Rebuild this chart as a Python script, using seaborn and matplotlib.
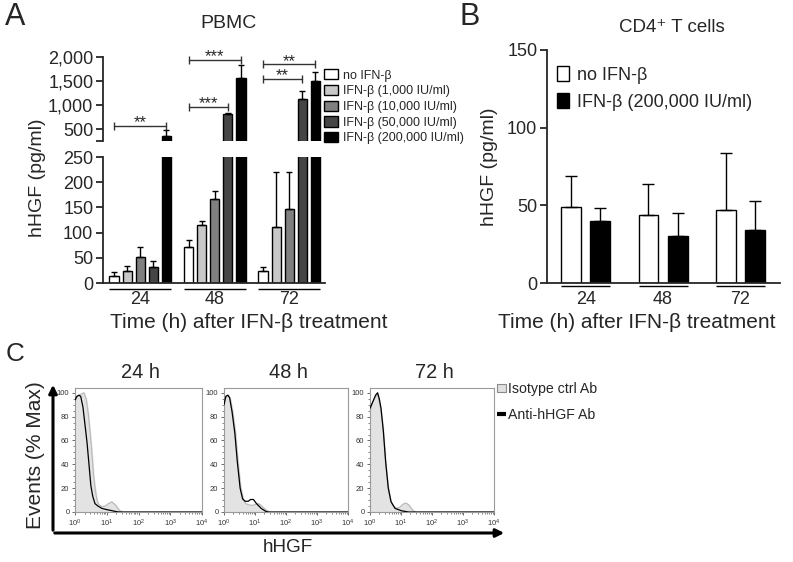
import numpy as np
import pandas as pd
import matplotlib
matplotlib.use('Agg')
import matplotlib.pyplot as plt
import seaborn as sns
from matplotlib.patches import Patch, FancyArrowPatch
from matplotlib.lines import Line2D
from matplotlib.container import BarContainer
from matplotlib.ticker import MultipleLocator, LogLocator, NullFormatter
from matplotlib.transforms import blended_transform_factory
from matplotlib import font_manager

# ---------------- data ----------------
times = ['24', '48', '72']

# Panel A (PBMC)
pbmc_treatments = ['no IFN-β', 'IFN-β (1,000 IU/ml)', 'IFN-β (10,000 IU/ml)',
                   'IFN-β (50,000 IU/ml)', 'IFN-β (200,000 IU/ml)']
pbmc_no_ifn = [13, 71, 23]
pbmc_1000 = [24, 116, 111]
pbmc_10000 = [51, 167, 147]
pbmc_50000 = [31, 815, 1122]
pbmc_200000 = [361, 1558, 1502]
pbmc_no_ifn_err = [8, 14, 9]
pbmc_1000_err = [9, 8, 110]
pbmc_10000_err = [20, 15, 74]
pbmc_50000_err = [13, 12, 160]
pbmc_200000_err = [110, 275, 195]

# significance brackets (group index, target treatment index, height, label)
bracket_group = [0, 1, 1, 2, 2]
bracket_target = [4, 3, 4, 3, 4]
bracket_y = [566, 956, 1938, 1537, 1849]
bracket_label = ['**', '***', '***', '**', '**']

# Panel B (CD4+ T cells)
cd4_groups = ['no IFN-β', 'IFN-β (200,000 IU/ml)']
cd4_no_ifn = [49, 44, 47]
cd4_ifn = [40, 30, 34]
cd4_no_ifn_err = [20, 20, 37]
cd4_ifn_err = [8, 15, 19]

# Panel C (flow histograms), x given as log10(hHGF), y as % of max
hist_titles = ['24 h', '48 h', '72 h']
iso_logx_24 = [0, 0.08, 0.2, 0.28, 0.35, 0.42, 0.48, 0.53, 0.58, 0.63, 0.69, 0.75, 0.85, 0.95, 1.05, 1.16, 1.27, 1.38, 1.48]
iso_y_24 = [93, 97, 99, 100, 95, 82, 65, 50, 32, 20, 10, 6, 4.5, 5, 7, 8.5, 6, 2, 0]
anti_logx_24 = [0, 0.06, 0.12, 0.18, 0.25, 0.32, 0.38, 0.44, 0.5, 0.56, 0.63, 0.72, 0.85, 1.0, 1.15, 1.3, 1.4, 4]
anti_y_24 = [94, 97, 98, 97, 88, 72, 58, 40, 22, 13, 7, 5, 3, 2, 1.2, 0.3, 0, 0]

iso_logx_48 = [0, 0.08, 0.14, 0.2, 0.28, 0.37, 0.45, 0.54, 0.62, 0.7, 0.8, 0.92, 1.02, 1.12, 1.22, 1.34, 1.46]
iso_y_48 = [92, 97, 98, 95, 84, 66, 42, 20, 11, 7, 6, 5.5, 6.5, 7, 5, 2, 0]
anti_logx_48 = [0, 0.06, 0.12, 0.18, 0.26, 0.35, 0.43, 0.52, 0.6, 0.68, 0.78, 0.86, 0.95, 1.05, 1.2, 1.35, 1.43, 4]
anti_y_48 = [90, 97, 98, 96, 84, 66, 42, 20, 11, 9, 9, 10.5, 10.5, 7, 3, 0.5, 0, 0]

iso_logx_72 = [0, 0.1, 0.24, 0.35, 0.43, 0.5, 0.58, 0.66, 0.75, 0.86, 0.96, 1.06, 1.15, 1.25, 1.36, 1.45]
iso_y_72 = [85, 93, 99, 86, 68, 44, 22, 10, 5, 3, 4, 6.5, 7.6, 6, 2, 0]
anti_logx_72 = [0, 0.1, 0.18, 0.245, 0.3, 0.355, 0.43, 0.505, 0.59, 0.68, 0.81, 1.02, 1.24, 4]
anti_y_72 = [87, 93, 98, 100, 95, 87, 68, 42, 20, 8.5, 3, 1, 0, 0]

# ---------------- style ----------------
sns.set_style('ticks')
plt.rcParams['font.family'] = ['Liberation Sans', 'DejaVu Sans']
plt.rcParams['mathtext.fontset'] = 'custom'
plt.rcParams['mathtext.rm'] = 'Liberation Sans'


def has_font(name):
    try:
        font_manager.findfont(font_manager.FontProperties(family=name), fallback_to_default=False)
        return True
    except Exception:
        return False


if has_font('Liberation Sans Narrow'):
    NARROW = ['Liberation Sans Narrow', 'DejaVu Sans']
    NARROW_SCALE = 1.0
else:
    NARROW = ['Liberation Sans', 'DejaVu Sans']
    NARROW_SCALE = 0.85

W, H = 793, 562
fig = plt.figure(figsize=(W / 100, H / 100), dpi=100)


def rect(l, t, r, b):
    return [l / W, 1 - b / H, (r - l) / W, (b - t) / H]


def fx(x):
    return x / W


def fy(y):
    return 1 - y / H


SPINE_LW = 1.3

# ---------------- Panel A ----------------
series_vals = [pbmc_no_ifn, pbmc_1000, pbmc_10000, pbmc_50000, pbmc_200000]
series_err = [pbmc_no_ifn_err, pbmc_1000_err, pbmc_10000_err, pbmc_50000_err, pbmc_200000_err]
rows = []
for lab, vals in zip(pbmc_treatments, series_vals):
    for t, v in zip(times, vals):
        rows.append({'time': t, 'treatment': lab, 'value': v})
df_a = pd.DataFrame(rows)
pal_a = ['#ffffff', '#c8c8c8', '#808080', '#454545', '#000000']

ax_lo = fig.add_axes(rect(103, 157, 325, 283))
ax_hi = fig.add_axes(rect(103, 57, 325, 141))
bar_sets = {}
for ax in (ax_lo, ax_hi):
    sns.barplot(data=df_a, x='time', y='value', hue='treatment', order=times,
                hue_order=pbmc_treatments, palette=pal_a, saturation=1, edgecolor='black',
                linewidth=1, errorbar=None, width=0.878, gap=0.29, legend=False, ax=ax)
    conts = [c for c in ax.containers if isinstance(c, BarContainer)]
    bar_sets[ax] = conts
    for i, cont in enumerate(conts):
        patches = sorted(cont.patches, key=lambda p: p.get_x())
        keep = [j for j in range(len(patches))
                if (ax is ax_lo and series_vals[i][j] < 250) or
                   (ax is ax_hi and series_vals[i][j] > 250)]
        if not keep:
            continue
        xs = [patches[j].get_x() + patches[j].get_width() / 2 for j in keep]
        ys = [series_vals[i][j] for j in keep]
        es = [series_err[i][j] for j in keep]
        ax.errorbar(xs, ys, yerr=[np.zeros(len(xs)), es],
                    fmt='none', ecolor='black', elinewidth=1, capsize=2.5, capthick=1)
    ax.set_xlim(-0.5, 2.48)
    ax.set_xlabel('')
    ax.set_ylabel('')
    ax.set_facecolor('none')
    for s in ('top', 'right'):
        ax.spines[s].set_visible(False)
    for s in ('left', 'bottom'):
        ax.spines[s].set_linewidth(SPINE_LW)
    ax.tick_params(axis='y', length=5, width=SPINE_LW, labelsize=13, pad=2)

ax_lo.set_ylim(0, 250)
ax_lo.set_yticks([0, 50, 100, 150, 200, 250])
ax_lo.set_xticks([0, 1, 2])
ax_lo.set_xticklabels(times)
ax_lo.tick_params(axis='x', length=0, labelsize=13, pad=6)

ax_hi.set_ylim(250, 2000)
ax_hi.set_yticks([250, 500, 1000, 1500, 2000])
ax_hi.set_yticklabels(['', '500', '1,000', '1,500', '2,000'])
ax_hi.spines['bottom'].set_visible(False)
ax_hi.tick_params(axis='x', bottom=False, labelbottom=False)

# group underlines
conts = bar_sets[ax_lo]
trans = blended_transform_factory(ax_lo.transData, ax_lo.transAxes)
for j in range(len(times)):
    ps = [sorted(c.patches, key=lambda p: p.get_x())[j] for c in conts]
    left = min(p.get_x() for p in ps)
    right = max(p.get_x() + p.get_width() for p in ps)
    ax_lo.plot([left, right], [-6 / 126, -6 / 126], transform=trans, color='black',
               lw=1, clip_on=False, solid_capstyle='butt')

# significance brackets
hconts = bar_sets[ax_hi]
for g, tgt, yv, lab in zip(bracket_group, bracket_target, bracket_y, bracket_label):
    p0 = sorted(hconts[0].patches, key=lambda p: p.get_x())[g]
    p1 = sorted(hconts[tgt].patches, key=lambda p: p.get_x())[g]
    x0 = p0.get_x() + p0.get_width() / 2
    x1 = p1.get_x() + p1.get_width() / 2
    ax_hi.plot([x0, x1], [yv, yv], color='#333333', lw=1, marker='|', markersize=6,
               markeredgewidth=1, clip_on=False)
    ax_hi.annotate(lab, xy=((x0 + x1) / 2, yv), xytext=(0, -1), textcoords='offset points',
                   ha='center', va='baseline', fontsize=12, annotation_clip=False)

handles_a = [Patch(facecolor=c, edgecolor='black', linewidth=1) for c in pal_a]
fig.legend(handles_a, pbmc_treatments, loc='upper left', bbox_to_anchor=(fx(324), fy(69)),
           frameon=False, fontsize=9, handlelength=1.1, handleheight=0.9,
           handletextpad=0.4, labelspacing=0.26, borderpad=0, borderaxespad=0)

fig.text(fx(228), fy(23), 'PBMC', ha='center', va='center', fontsize=14)
fig.text(fx(38), fy(178), 'hHGF (pg/ml)', ha='center', va='center', rotation=90, fontsize=14)
fig.text(fx(249), fy(322), 'Time (h) after IFN-β treatment', ha='center', va='center', fontsize=15)
fig.text(fx(15), fy(17), 'A', ha='center', va='center', fontsize=22)

# ---------------- Panel B ----------------
rows = []
for lab, vals in zip(cd4_groups, [cd4_no_ifn, cd4_ifn]):
    for t, v in zip(times, vals):
        rows.append({'time': t, 'treatment': lab, 'value': v})
df_b = pd.DataFrame(rows)
pal_b = ['#ffffff', '#000000']
cd4_vals = [cd4_no_ifn, cd4_ifn]
cd4_errs = [cd4_no_ifn_err, cd4_ifn_err]

ax_b = fig.add_axes(rect(547, 50, 780, 283))
sns.barplot(data=df_b, x='time', y='value', hue='treatment', order=times, hue_order=cd4_groups,
            palette=pal_b, saturation=1, edgecolor='black', linewidth=1, errorbar=None,
            width=0.756, gap=0.32, legend=False, ax=ax_b)
conts_b = [c for c in ax_b.containers if isinstance(c, BarContainer)]
for i, cont in enumerate(conts_b):
    patches = sorted(cont.patches, key=lambda p: p.get_x())
    xs = [p.get_x() + p.get_width() / 2 for p in patches]
    ax_b.errorbar(xs, cd4_vals[i], yerr=[np.zeros(len(xs)), cd4_errs[i]], fmt='none',
                  ecolor='black', elinewidth=1, capsize=4, capthick=1)
ax_b.set_xlim(-0.5, 2.51)
ax_b.set_ylim(0, 150)
ax_b.set_yticks([0, 50, 100, 150])
ax_b.set_xlabel('')
ax_b.set_ylabel('')
for s in ('top', 'right'):
    ax_b.spines[s].set_visible(False)
for s in ('left', 'bottom'):
    ax_b.spines[s].set_linewidth(SPINE_LW)
ax_b.tick_params(axis='y', length=5, width=SPINE_LW, labelsize=13, pad=2)
ax_b.tick_params(axis='x', length=0, labelsize=13, pad=6)

trans_b = blended_transform_factory(ax_b.transData, ax_b.transAxes)
for j in range(len(times)):
    ps = [sorted(c.patches, key=lambda p: p.get_x())[j] for c in conts_b]
    left = min(p.get_x() for p in ps)
    right = max(p.get_x() + p.get_width() for p in ps)
    ax_b.plot([left, right], [-3.3 / 233, -3.3 / 233], transform=trans_b, color='black',
              lw=1, clip_on=False, solid_capstyle='butt')

handles_b = [Patch(facecolor=c, edgecolor='black', linewidth=1) for c in pal_b]
fig.legend(handles_b, cd4_groups, loc='upper left', bbox_to_anchor=(fx(557), fy(66)),
           frameon=False, fontsize=13, handlelength=0.67, handleheight=0.94,
           handletextpad=0.45, labelspacing=0.5, borderpad=0, borderaxespad=0)

fig.text(fx(672), fy(27), 'CD4⁺ T cells', ha='center', va='center', fontsize=13.5)
fig.text(fx(490), fy(167), 'hHGF (pg/ml)', ha='center', va='center', rotation=90, fontsize=14)
fig.text(fx(637), fy(322), 'Time (h) after IFN-β treatment', ha='center', va='center', fontsize=15)
fig.text(fx(470), fy(17), 'B', ha='center', va='center', fontsize=22)

# ---------------- Panel C ----------------
iso_x = [iso_logx_24, iso_logx_48, iso_logx_72]
iso_y = [iso_y_24, iso_y_48, iso_y_72]
anti_x = [anti_logx_24, anti_logx_48, anti_logx_72]
anti_y = [anti_y_24, anti_y_48, anti_y_72]
panel_lr = [(75, 202), (224, 348), (370, 494)]
for k, (l, r) in enumerate(panel_lr):
    ax = fig.add_axes(rect(l, 388, r, 512))
    ax.set_xscale('log')
    xi = np.power(10.0, np.array(iso_x[k]))
    ax.fill_between(xi, iso_y[k], color='#e3e3e3', zorder=1)
    ax.plot(xi, iso_y[k], color='#b8b8b8', lw=0.8, zorder=2)
    sns.lineplot(x=np.power(10.0, np.array(anti_x[k])), y=anti_y[k], ax=ax, color='black',
                 lw=0.9, sort=False, estimator=None, zorder=3)
    ax.set_xlim(1, 1e4)
    ax.set_ylim(0, 104)
    ax.set_yticks([0, 20, 40, 60, 80, 100])
    ax.yaxis.set_minor_locator(MultipleLocator(5))
    ax.xaxis.set_major_locator(LogLocator(base=10, numticks=10))
    ax.xaxis.set_minor_locator(LogLocator(base=10, subs=np.arange(2, 10), numticks=10))
    ax.xaxis.set_minor_formatter(NullFormatter())
    for s in ax.spines.values():
        s.set_color('#9a9a9a')
        s.set_linewidth(0.8)
    ax.tick_params(which='major', length=2.5, width=0.6, color='#555555', labelsize=5.5,
                   pad=1.5, labelcolor='#333333')
    ax.tick_params(which='minor', length=1.4, width=0.5, color='#555555')
    ax.set_xlabel('')
    ax.set_ylabel('')
    fig.text(fx((l + r) / 2 + 2), fy(372), hist_titles[k], ha='center', va='center',
             fontsize=17 * NARROW_SCALE, family=NARROW)

fig.add_artist(FancyArrowPatch((fx(53), fy(533)), (fx(53), fy(382)), transform=fig.transFigure,
                               arrowstyle='-|>', mutation_scale=12, lw=2.2, color='black'))
fig.add_artist(FancyArrowPatch((fx(52), fy(533)), (fx(507), fy(533)), transform=fig.transFigure,
                               arrowstyle='-|>', mutation_scale=12, lw=2.2, color='black'))

fig.text(fx(36), fy(455), 'Events (% Max)', ha='center', va='center', rotation=90, fontsize=15)
fig.text(fx(288), fy(548), 'hHGF', ha='center', va='center', fontsize=16 * NARROW_SCALE, family=NARROW)
fig.text(fx(15), fy(354), 'C', ha='center', va='center', fontsize=22 * NARROW_SCALE, family=NARROW)

handles_c = [Patch(facecolor='#e0e0e0', edgecolor='#8a8a8a', linewidth=0.8),
             Line2D([], [], color='black', lw=3, solid_capstyle='butt')]
fig.legend(handles_c, ['Isotype ctrl Ab', 'Anti-hHGF Ab'], loc='upper left',
           bbox_to_anchor=(fx(497), fy(382)), frameon=False,
           prop={'family': NARROW, 'size': 12 * NARROW_SCALE},
           handlelength=0.6, handleheight=0.55, handletextpad=0.2, labelspacing=0.85,
           borderpad=0, borderaxespad=0)

fig.savefig('out.png', dpi=100)
